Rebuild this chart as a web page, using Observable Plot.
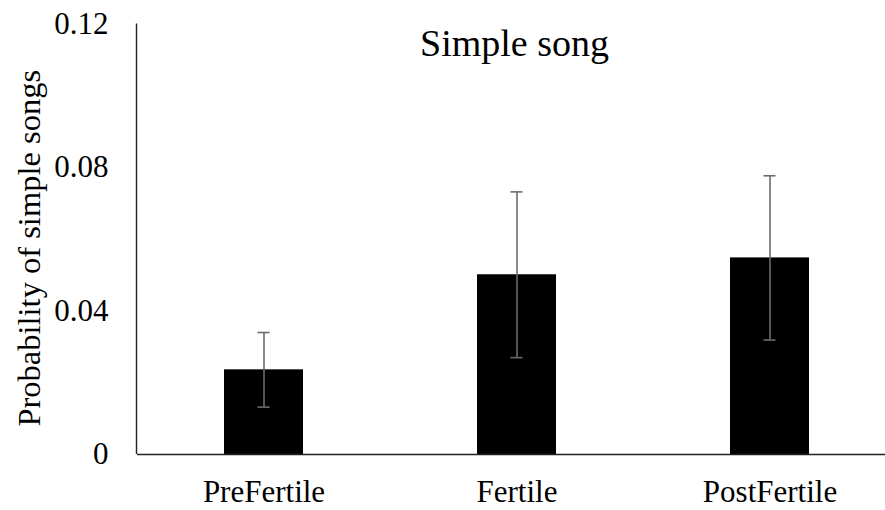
<!DOCTYPE html>
<html>
<head>
<meta charset="utf-8">
<script src="https://cdn.jsdelivr.net/npm/d3@7"></script>
<script src="https://cdn.jsdelivr.net/npm/@observablehq/plot@0.6"></script>
<style>
  html, body { margin: 0; padding: 0; background: #fff; }
</style>
</head>
<body>
<div id="chart"></div>
<script>
const categories = ["PreFertile", "Fertile", "PostFertile"];
const means = [0.0236, 0.0501, 0.0548];
const errors = [0.0104, 0.0231, 0.0229];
const yTicks = [0, 0.04, 0.08, 0.12];
const title = "Simple song";
const yLabel = "Probability of simple songs";

const data = categories.map((c, i) => ({cat: c, mean: means[i], lo: means[i] - errors[i], hi: means[i] + errors[i]}));

const W = 885, H = 510, mL = 137, mT = 23.5, mB = 56;
const font = "'Liberation Serif', 'Times New Roman', serif";

const plot = Plot.plot({
  width: W,
  height: H,
  marginLeft: mL,
  marginRight: 0,
  marginTop: mT,
  marginBottom: mB,
  style: {fontFamily: font, fontSize: "31px", color: "#000", background: "#fff"},
  x: {domain: categories, range: [mL, 896], paddingInner: 0.688, paddingOuter: 0.344},
  y: {domain: [0, 0.12]},
  marks: [
    Plot.barY(data, {x: "cat", y: "mean", fill: "#000"}),
    Plot.ruleX(data, {x: "cat", y1: "lo", y2: "hi", stroke: "#6b6b6b", strokeWidth: 1.6}),
    Plot.tickY(data, {x: "cat", y: "lo", stroke: "#6b6b6b", strokeWidth: 1.6, insetLeft: 33.5, insetRight: 33.5}),
    Plot.tickY(data, {x: "cat", y: "hi", stroke: "#6b6b6b", strokeWidth: 1.6, insetLeft: 33.5, insetRight: 33.5}),
    Plot.ruleY([0], {stroke: "#222", strokeWidth: 1.4}),
    Plot.axisY({ticks: yTicks, tickSize: 0, tickPadding: 29, label: null, tickFormat: d => String(d)}),
    Plot.axisX({tickSize: 0, tickPadding: 25, label: null}),
    Plot.text([title], {frameAnchor: "top", text: d => d, fontSize: 38, dx: 3, dy: 20, lineAnchor: "middle"}),
    Plot.text([yLabel], {frameAnchor: "left", text: d => d, rotate: -90, dx: -108, dy: 9, fontSize: 32.5, textAnchor: "middle", lineAnchor: "middle"})
  ]
});

// y axis domain line
d3.select(plot).append("line")
  .attr("x1", mL - 0.5).attr("x2", mL - 0.5)
  .attr("y1", mT).attr("y2", H - mB)
  .attr("stroke", "#222").attr("stroke-width", 1.4);

document.getElementById("chart").appendChild(plot);
</script>
</body>
</html>
